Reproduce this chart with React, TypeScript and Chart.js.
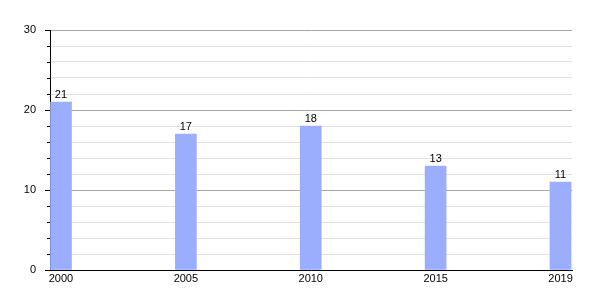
import React, { useEffect, useRef } from "react";
import { Chart, registerables } from "chart.js";

Chart.register(...registerables);

const years = ["2000", "2005", "2010", "2015", "2019"];
const values = [21, 17, 18, 13, 11];
const yTickLabels = [0, 10, 20, 30];

const BAR_COLOR = "#9aaefd";

export default function App() {
  const ref = useRef<HTMLCanvasElement | null>(null);
  useEffect(() => {
    document.body.style.margin = "0";
    const canvas = ref.current!;
    const tickMarks = {
      id: "tickMarks",
      afterDraw(chart: any) {
        const y = chart.scales.y;
        const ctx = chart.ctx;
        ctx.save();
        ctx.strokeStyle = "#000";
        ctx.lineWidth = 1;
        for (const t of y.ticks) {
          const py = Math.round(y.getPixelForValue(t.value)) + 0.5;
          const len = t.value % 10 === 0 ? 5 : 3;
          ctx.beginPath();
          ctx.moveTo(y.right - len, py);
          ctx.lineTo(y.right, py);
          ctx.stroke();
        }
        ctx.restore();
      },
    };
    const valueLabels = {
      id: "valueLabels",
      afterDatasetsDraw(chart: any) {
        const ctx = chart.ctx;
        const meta = chart.getDatasetMeta(0);
        ctx.save();
        ctx.fillStyle = "#000";
        ctx.font = "11px 'Liberation Sans', Arial, sans-serif";
        ctx.textAlign = "center";
        ctx.textBaseline = "alphabetic";
        meta.data.forEach((el: any, i: number) => {
          ctx.fillText(String(values[i]), el.x, el.y - 4);
        });
        ctx.restore();
      },
    };
    const chart = new Chart(canvas, {
      type: "bar",
      data: {
        datasets: [
          {
            data: values.map((v, i) => ({ x: i, y: v })),
            backgroundColor: BAR_COLOR,
            borderWidth: 0,
            barThickness: 21,
          },
        ],
      },
      options: {
        responsive: false,
        animation: false,
        layout: { padding: { top: 30, right: 28, left: 0, bottom: 0 } },
        plugins: { legend: { display: false }, tooltip: { enabled: false } },
        scales: {
          x: {
            type: "linear",
            min: -0.088,
            max: 4.092,
            offset: false,
            afterBuildTicks: (s: any) => {
              s.ticks = years.map((_, i) => ({ value: i }));
            },
            afterFit: (s: any) => {
              s.height = 30;
            },
            grid: { display: false, drawTicks: false },
            border: { display: true, color: "#000", width: 1 },
            ticks: {
              color: "#000",
              font: { size: 11, family: "'Liberation Sans', Arial, sans-serif" },
              padding: 2,
              maxRotation: 0,
              autoSkip: false,
              callback: (v: any) => years[Math.round(v)] ?? "",
            },
          },
          y: {
            min: 0,
            max: 30,
            afterFit: (s: any) => {
              s.width = 50;
            },
            afterBuildTicks: (s: any) => {
              const t = [];
              for (let v = 0; v <= 30; v += 2) t.push({ value: v });
              s.ticks = t;
            },
            grid: {
              drawTicks: false,
              color: (c: any) => (c.tick && c.tick.value % 10 === 0 ? "#a8a8a8" : "#e2e2e2"),
              lineWidth: 1,
            },
            border: { display: true, color: "#000", width: 1 },
            ticks: {
              color: "#000",
              font: { size: 11, family: "'Liberation Sans', Arial, sans-serif" },
              padding: 14,
              autoSkip: false,
              callback: (v: any) => (yTickLabels.includes(v) ? String(v) : ""),
            },
          },
        },
      },
      plugins: [tickMarks, valueLabels],
    });
    return () => chart.destroy();
  }, []);
  return <canvas ref={ref} width={600} height={300} style={{ display: "block" }} />;
}
